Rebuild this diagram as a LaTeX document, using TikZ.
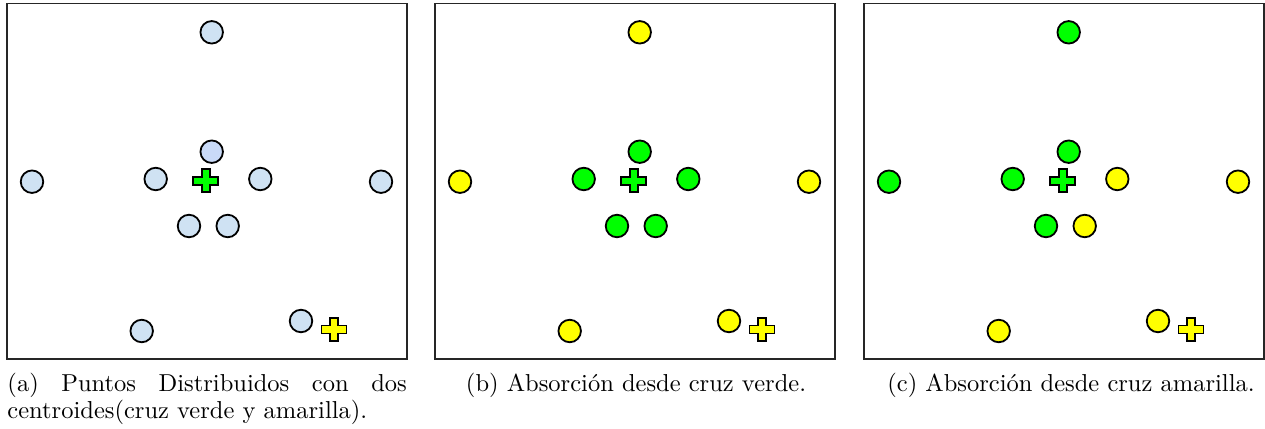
\documentclass[tikz,border=0pt]{standalone}
\usepackage{tikz}
\definecolor{celeste}{RGB}{207,226,243}
\definecolor{celesteb}{RGB}{201,218,248}
\definecolor{verde}{RGB}{0,255,0}
\definecolor{amarillo}{RGB}{255,255,0}

\begin{document}
\begin{tikzpicture}[x=1pt,y=-1pt,
   panel/.style={draw=black!85,line width=1.3pt},
   pto/.style={circle,draw,line width=1.8pt,fill=#1,minimum size=22.5pt,inner sep=0pt},
   leyenda/.style={inner sep=0pt,scale=2.45,transform shape,font=\fontsize{10}{11}\selectfont},
   pics/cruz/.style={code={\draw[line width=1.6pt,fill=#1]
      (-4,-11.5) -- (4,-11.5) -- (4,-4) -- (12.5,-4) -- (12.5,4) -- (4,4) -- (4,11.5)
      -- (-4,11.5) -- (-4,4) -- (-12.5,4) -- (-12.5,-4) -- (-4,-4) -- cycle;}}]
\useasboundingbox (0,0) rectangle (1265,428);

% marcos de las tres figuras
\foreach \dx in {0,428,857}
   \draw[panel] (7+\dx,3.5) rectangle (407+\dx,359);

% puntos: numero/x/y/color en (a)/(b)/(c)
\foreach \n/\x/\y/\ca/\cb/\cc in {
      1/211.7/32.3/celeste/amarillo/verde,
      2/211.7/151.7/celesteb/verde/verde,
      3/32/181.7/celeste/amarillo/verde,
      4/155.7/179/celeste/verde/verde,
      5/260.3/179/celeste/verde/amarillo,
      6/381/181.7/celeste/amarillo/amarillo,
      7/189/226/celeste/verde/verde,
      8/227.7/226/celeste/verde/amarillo,
      9/141.7/331/celeste/amarillo/amarillo,
      10/301/321/celeste/amarillo/amarillo} {
   \node[pto=\ca] (a\n) at (\x,\y) {};
   \node[pto=\cb] (b\n) at (\x+428,\y) {};
   \node[pto=\cc] (c\n) at (\x+857,\y) {};
}

% centroides
\foreach \p/\dx in {a/0,b/428,c/857} {
   \pic (\p verde) at (205.7+\dx,180.7) {cruz=verde};
   \pic (\p amar) at (334+\dx,329.3) {cruz=amarillo};
}

% leyendas
\node[leyenda,text width=163pt,align=justify,anchor=north west] (capA) at (7,373)
   {(a) Puntos Distribuidos con dos\linebreak centroides(cruz verde y amarilla).};
\node[leyenda,anchor=base] (capB) at (636,391) {(b) Absorción desde cruz verde.};
\node[leyenda,anchor=base] (capC) at (1071,391) {(c) Absorción desde cruz amarilla.};
\end{tikzpicture}
\end{document}
